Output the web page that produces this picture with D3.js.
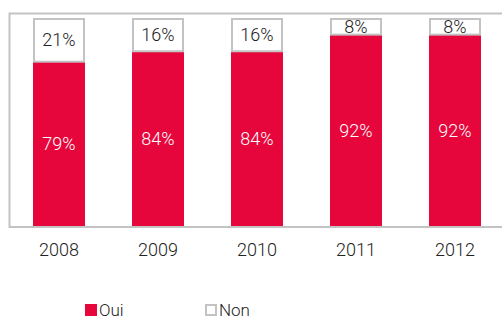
<!DOCTYPE html>
<html>
<head>
<meta charset="utf-8">
<script src="https://cdn.jsdelivr.net/npm/d3@7/dist/d3.min.js"></script>
<style>
  html, body { margin: 0; padding: 0; background: #fff; }
  svg { display: block; font-family: "Roboto", "Liberation Sans", Arial, sans-serif; font-weight: 300; }
</style>
</head>
<body>
<div id="chart"></div>
<script>
// Share of answers per year (percent)
const years = ["2008", "2009", "2010", "2011", "2012"];
const oui = [79, 84, 84, 92, 92];
const non = [21, 16, 16, 8, 8];
const seriesNames = ["Oui", "Non"];

const W = 502, H = 320;
const red = "#E6063C", grey = "#C3C3C3", ink = "#222";
const fontFamily = "Roboto, 'Liberation Sans', Arial, sans-serif";

const svg = d3.select("#chart").append("svg")
  .attr("width", W).attr("height", H);

const x = d3.scaleBand().domain(years).range([9.5, 504.5]).paddingInner(0.475).paddingOuter(0.2375);
const y = d3.scaleLinear().domain([0, 100]).range([226, 18]);

// plot frame: top, left and bottom edges
svg.append("path")
  .attr("d", `M${W},13.5 H9.5 V227 H${W}`)
  .attr("fill", "none").attr("stroke", grey).attr("stroke-width", 2);

const rows = years.map((yr, i) => ({ yr, oui: oui[i], non: non[i] }));

const g = svg.append("g");

// "Oui" segments
g.selectAll("rect.oui").data(rows).join("rect")
  .attr("class", "oui")
  .attr("x", d => x(d.yr)).attr("width", x.bandwidth())
  .attr("y", d => y(d.oui)).attr("height", d => y(0) - y(d.oui))
  .attr("fill", red);

// "Non" segments stacked above
g.selectAll("rect.non").data(rows).join("rect")
  .attr("class", "non")
  .attr("x", d => x(d.yr) + 1).attr("width", x.bandwidth() - 2)
  .attr("y", d => y(d.oui + d.non) + 1).attr("height", d => y(d.oui) - y(d.oui + d.non) - 1)
  .attr("fill", "#fff").attr("stroke", grey).attr("stroke-width", 2);

// value labels
g.selectAll("text.vo").data(rows).join("text")
  .attr("x", d => x(d.yr) + x.bandwidth() / 2)
  .attr("y", d => y(d.oui / 2))
  .attr("dy", "0.36em").attr("text-anchor", "middle")
  .attr("font-size", 18).attr("fill", "#fff")
  .text(d => d.oui + "%");

g.selectAll("text.vn").data(rows).join("text")
  .attr("x", d => x(d.yr) + x.bandwidth() / 2)
  .attr("y", d => y(d.oui + d.non / 2))
  .attr("dy", "0.36em").attr("text-anchor", "middle")
  .attr("font-size", 18).attr("fill", ink)
  .text(d => d.non + "%");

// x axis labels
const xAxis = svg.append("g").attr("transform", "translate(0,227)")
  .call(d3.axisBottom(x).tickSize(0).tickPadding(16));
xAxis.select(".domain").remove();
xAxis.selectAll("text").attr("font-size", 18).attr("fill", ink)
  .attr("font-family", fontFamily).attr("font-weight", 300);

// legend
const legend = svg.append("g");
const lx = [85, 205];
seriesNames.forEach((name, i) => {
  const lg = legend.append("g").attr("transform", `translate(${lx[i]},304)`);
  lg.append("rect")
    .attr("x", i === 0 ? 0 : 1).attr("y", i === 0 ? 0 : 1)
    .attr("width", i === 0 ? 12 : 10).attr("height", i === 0 ? 12 : 10)
    .attr("fill", i === 0 ? red : "#fff")
    .attr("stroke", i === 0 ? "none" : grey).attr("stroke-width", 2);
  lg.append("text").attr("x", 14).attr("y", 12)
    .attr("font-size", 17).attr("fill", ink).text(name);
});
</script>
</body>
</html>
